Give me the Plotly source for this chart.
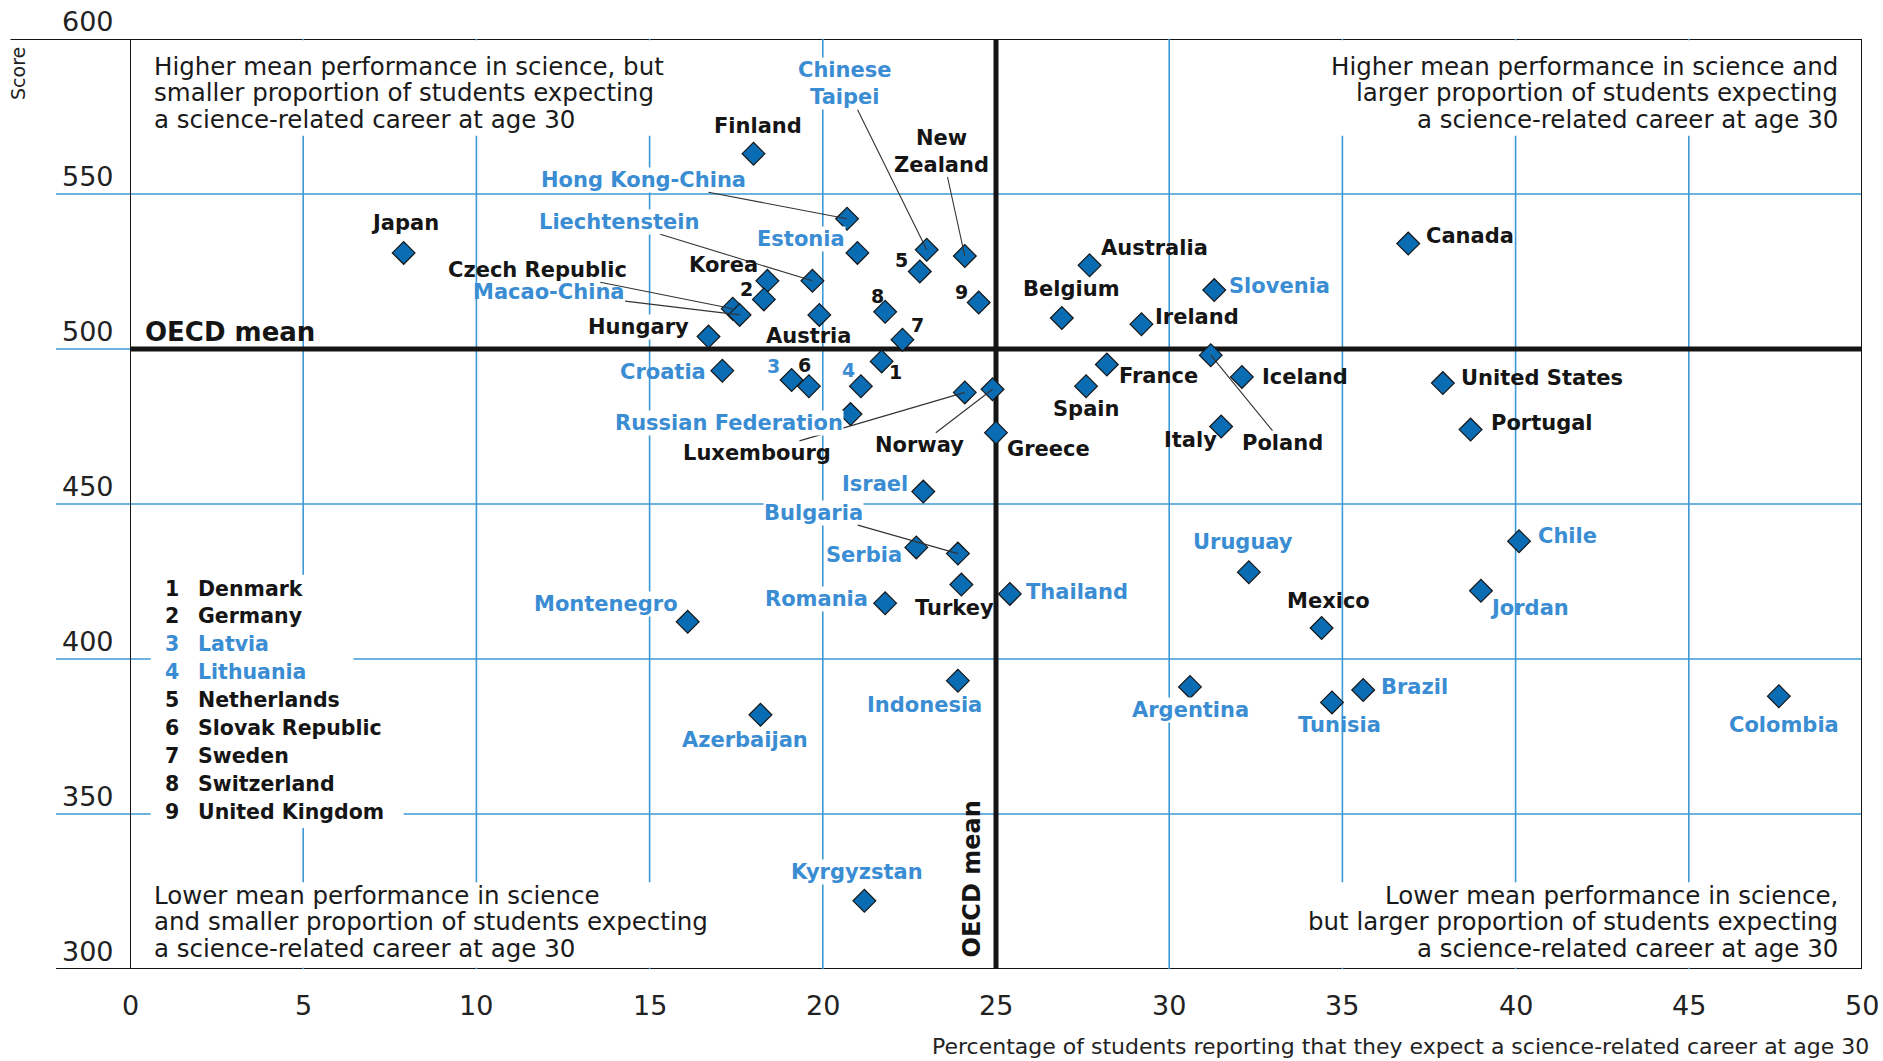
import plotly.graph_objects as go

# ---------------- data ----------------
countries = ["Japan", "Finland", "Chinese Taipei", "Hong Kong-China", "Liechtenstein", "Estonia",
             "New Zealand", "Netherlands", "Korea", "Germany", "Czech Republic", "Macao-China",
             "Hungary", "Austria", "Switzerland", "Sweden", "United Kingdom", "Australia", "Belgium",
             "Ireland", "Canada", "Slovenia", "Poland", "Iceland", "United States", "Denmark",
             "Croatia", "Latvia", "Slovak Republic", "Lithuania", "France", "Spain", "Norway",
             "Luxembourg", "Russian Federation", "Greece", "Italy", "Portugal", "Israel", "Bulgaria",
             "Serbia", "Turkey", "Thailand", "Romania", "Montenegro", "Indonesia", "Azerbaijan",
             "Argentina", "Uruguay", "Kyrgyzstan", "Chile", "Jordan", "Mexico", "Brazil", "Tunisia",
             "Colombia"]
pct_career = [7.9, 18.0, 23.0, 20.7, 19.7, 21.0, 24.1, 22.8, 18.4, 18.3,
              17.4, 17.6, 16.7, 19.9, 21.8, 22.3, 24.5, 27.7, 26.9, 29.2,
              36.9, 31.3, 31.2, 32.1, 37.9, 21.7, 17.1, 19.1, 19.6, 21.1,
              28.2, 27.6, 24.9, 24.1, 20.8, 25.0, 31.5, 38.7, 22.9, 23.9,
              22.7, 24.0, 25.4, 21.8, 16.1, 23.9, 18.2, 30.6, 32.3, 21.2,
              40.1, 39.0, 34.4, 35.6, 34.7, 47.6]
science_score = [531, 563, 532, 542, 522, 531, 530, 525, 522, 516,
                 513, 511, 504, 511, 512, 503, 515, 527, 510, 508,
                 534, 519, 498, 491, 489, 496, 493, 490, 488, 488,
                 495, 488, 487, 486, 479, 473, 475, 474, 454, 434,
                 436, 424, 421, 418, 412, 393, 382, 391, 428, 322,
                 438, 422, 410, 390, 386, 388]
partners = ["Chinese Taipei", "Hong Kong-China", "Liechtenstein", "Estonia", "Macao-China",
            "Slovenia", "Croatia", "Latvia", "Lithuania", "Russian Federation", "Israel",
            "Bulgaria", "Serbia", "Romania", "Montenegro", "Thailand", "Uruguay", "Chile",
            "Jordan", "Indonesia", "Azerbaijan", "Argentina", "Brazil", "Tunisia", "Colombia",
            "Kyrgyzstan"]
numbered = ["Denmark", "Germany", "Latvia", "Lithuania", "Netherlands", "Slovak Republic",
            "Sweden", "Switzerland", "United Kingdom"]
oecd_mean_pct = 25
oecd_mean_score = 500
x_ticks = [0, 5, 10, 15, 20, 25, 30, 35, 40, 45, 50]
y_ticks = [300, 350, 400, 450, 500, 550, 600]
x_title = "Percentage of students reporting that they expect a science-related career at age 30"
y_title = "Score"

# ---------------- style / layout ----------------
W, H = 1883, 1061
ML, MR, MT, MB = 130, 21, 39, 92
PW, PH = W - ML - MR, H - MT - MB
X0, X1, Y0, Y1 = 0, 50, 300, 600
FONT = "DejaVu Sans"
BLUE_TXT = "#3a8dd3"
DIAMOND = "#0a6db3"
GRID = "#3d9ad6"
BLACK = "#151515"


def px2x(px):
    return X0 + (px - ML) / PW * (X1 - X0)


def px2y(py):
    return Y1 - (py - MT) / PH * (Y1 - Y0)


# label placement: dx, dy (screen px, dy down), anchor, leader line, white background
LBL = {
    "Japan": (1, -30, "center", False, False),
    "Finland": (4, -28, "center", False, False),
    "Chinese Taipei": (-82, -166, "center", True, True),
    "Hong Kong-China": (-204, -39, "center", True, True),
    "Liechtenstein": (-193, -59, "center", True, True),
    "Estonia": (-56, -14, "center", False, True),
    "New Zealand": (-23, -105, "center", True, False),
    "Netherlands": (-18, -12, "center", False, False),
    "Korea": (-44, -16, "center", False, False),
    "Germany": (-17, -10, "center", False, False),
    "Czech Republic": (-195, -39, "center", True, False),
    "Macao-China": (-191, -23, "center", True, False),
    "Hungary": (-70, -10, "center", False, True),
    "Austria": (-11, 21, "center", False, False),
    "Switzerland": (-8, -16, "center", False, False),
    "Sweden": (15, -15, "center", False, False),
    "United Kingdom": (-17, -11, "center", False, False),
    "Australia": (10, -17, "left", False, False),
    "Belgium": (10, -29, "center", False, False),
    "Ireland": (13, -7, "left", False, False),
    "Canada": (17, -8, "left", False, False),
    "Slovenia": (14, -4, "left", False, False),
    "Poland": (72, 88, "center", True, False),
    "Iceland": (19, 0, "left", False, False),
    "United States": (17, -5, "left", False, False),
    "Denmark": (14, 11, "center", False, False),
    "Croatia": (-59, 1, "center", False, False),
    "Latvia": (-18, -14, "center", False, False),
    "Slovak Republic": (-4, -21, "center", False, False),
    "Lithuania": (-12, -16, "center", False, False),
    "France": (11, 11, "left", False, False),
    "Spain": (0, 23, "center", False, False),
    "Norway": (-73, 56, "center", True, False),
    "Luxembourg": (-208, 61, "center", True, False),
    "Russian Federation": (-122, 9, "center", False, True),
    "Greece": (10, 16, "left", False, False),
    "Italy": (-31, 13, "center", False, False),
    "Portugal": (19, -7, "left", False, False),
    "Israel": (-14, -8, "right", False, False),
    "Bulgaria": (-144, -41, "center", True, True),
    "Serbia": (-13, 8, "right", False, False),
    "Turkey": (-7, 23, "center", False, False),
    "Thailand": (15, -2, "left", False, False),
    "Romania": (-16, -4, "right", False, True),
    "Montenegro": (-9, -18, "right", False, True),
    "Indonesia": (-33, 24, "center", False, False),
    "Azerbaijan": (-15, 25, "center", False, False),
    "Argentina": (1, 23, "center", False, True),
    "Uruguay": (-6, -30, "center", False, False),
    "Kyrgyzstan": (-7, -29, "center", False, True),
    "Chile": (18, -5, "left", False, False),
    "Jordan": (8, 17, "left", False, False),
    "Mexico": (7, -27, "center", False, False),
    "Brazil": (17, -3, "left", False, False),
    "Tunisia": (7, 23, "center", False, False),
    "Colombia": (5, 29, "center", False, False),
}
MULTILINE = {"Chinese Taipei": "Chinese<br>Taipei", "New Zealand": "New<br>Zealand"}

fig = go.Figure()
fig.add_trace(go.Scatter(
    x=pct_career, y=science_score, mode="markers",
    marker=dict(symbol="diamond", size=17.5, color=DIAMOND, line=dict(color=BLACK, width=1.2)),
    hoverinfo="text", text=countries, showlegend=False,
))

shapes = []
# blue grid lines
for v in y_ticks:
    if v in (350, 400, 450, 550):
        shapes.append(dict(type="line", xref="paper", yref="y", x0=-0.0427, x1=1, y0=v, y1=v,
                           line=dict(color=GRID, width=1.6), layer="below"))
shapes.append(dict(type="line", xref="paper", yref="y", x0=-0.0427, x1=0, y0=oecd_mean_score,
                   y1=oecd_mean_score, line=dict(color=GRID, width=1.6), layer="below"))
for v in x_ticks:
    if v not in (X0, X1, oecd_mean_pct):
        shapes.append(dict(type="line", xref="x", yref="y", x0=v, x1=v, y0=Y0, y1=Y1,
                           line=dict(color=GRID, width=1.6), layer="below"))
# white boxes behind the text blocks
for (a, b, c, d) in [(0.15, 16.5, 568.8, 599.6), (34.0, 49.85, 568.8, 599.6),
                     (0.15, 17.2, 300.4, 328.0), (34.0, 49.85, 300.4, 328.0),
                     (0.6, 6.45, 345.6, 427.2), (0.6, 7.9, 345.6, 355.0)]:
    shapes.append(dict(type="rect", xref="x", yref="y", x0=a, x1=b, y0=c, y1=d,
                       fillcolor="white", line=dict(width=0), layer="below"))
# black frame and OECD mean lines
shapes.append(dict(type="line", xref="paper", yref="y", x0=-0.069, x1=1, y0=Y1, y1=Y1,
                   line=dict(color=BLACK, width=2), layer="below"))
shapes.append(dict(type="line", xref="paper", yref="y", x0=-0.0427, x1=1, y0=Y0, y1=Y0,
                   line=dict(color=BLACK, width=2), layer="below"))
for v in (X0, X1):
    shapes.append(dict(type="line", xref="x", yref="y", x0=v, x1=v, y0=Y0, y1=Y1,
                       line=dict(color=BLACK, width=2), layer="below"))
shapes.append(dict(type="line", xref="x", yref="y", x0=X0, x1=X1, y0=oecd_mean_score,
                   y1=oecd_mean_score, line=dict(color=BLACK, width=5), layer="below"))
shapes.append(dict(type="line", xref="x", yref="y", x0=oecd_mean_pct, x1=oecd_mean_pct, y0=Y0,
                   y1=Y1, line=dict(color=BLACK, width=5), layer="below"))

ann = []
# tick labels
for v in x_ticks:
    ann.append(dict(x=v, xref="x", y=0, yref="paper", yanchor="middle", yshift=-36,
                    text=str(v), showarrow=False, font=dict(family=FONT, size=27, color="#222")))
for v in y_ticks:
    ann.append(dict(x=0, xref="paper", xanchor="right", xshift=-14, y=v, yref="y",
                    yanchor="bottom", yshift=0, text=str(v), showarrow=False,
                    font=dict(family=FONT, size=27, color="#222")))
ann.append(dict(x=1.005, xref="paper", xanchor="right", y=0, yref="paper", yanchor="middle",
                yshift=-77, text=x_title, showarrow=False,
                font=dict(family=FONT, size=22, color="#222")))
ann.append(dict(x=(18 - ML) / PW, xref="paper", y=1 - (73 - MT) / PH, yref="paper",
                xanchor="center", yanchor="middle", text=y_title, textangle=-90,
                showarrow=False, font=dict(family=FONT, size=19, color="#222")))
# OECD mean labels
ann.append(dict(x=X0, xref="x", xanchor="left", xshift=13, y=oecd_mean_score, yref="y",
                yanchor="bottom", yshift=0, text="<b>OECD mean</b>", showarrow=False,
                font=dict(family=FONT, size=26, color=BLACK)))
ann.append(dict(x=oecd_mean_pct, xref="x", xshift=-25, xanchor="center", y=Y0, yref="y",
                yanchor="bottom", yshift=9, text="<b>OECD mean</b>", textangle=-90,
                showarrow=False, font=dict(family=FONT, size=24, color=BLACK)))

# quadrant notes
quad = [
    (["Higher mean performance in science, but",
      "smaller proportion of students expecting",
      "a science-related career at age 30"], 152, [66, 92.5, 119], "left"),
    (["Higher mean performance in science and",
      "larger proportion of students expecting",
      "a science-related career at age 30"], 1840, [66, 92.5, 119], "right"),
    (["Lower mean performance in science",
      "and smaller proportion of students expecting",
      "a science-related career at age 30"], 152, [895, 921.5, 948], "left"),
    (["Lower mean performance in science,",
      "but larger proportion of students expecting",
      "a science-related career at age 30"], 1840, [895, 921.5, 948], "right"),
]
for lines, xp, ys, anc in quad:
    for t, yp in zip(lines, ys):
        ann.append(dict(x=px2x(xp), xref="x", y=px2y(yp), yref="y", xanchor=anc,
                        yanchor="middle", text=t, showarrow=False,
                        font=dict(family=FONT, size=24.5, color="#1a1a1a")))

# numbered key
for i, name in enumerate(numbered):
    col = BLUE_TXT if name in partners else BLACK
    yp = 588.5 + i * 27.9
    ann.append(dict(x=px2x(172), xref="x", y=px2y(yp), yref="y", xanchor="center",
                    yanchor="middle", text=f"<b>{i + 1}</b>", showarrow=False,
                    font=dict(family=FONT, size=20.5, color=col)))
    ann.append(dict(x=px2x(196), xref="x", y=px2y(yp), yref="y", xanchor="left",
                    yanchor="middle", text=f"<b>{name}</b>", showarrow=False,
                    font=dict(family=FONT, size=20.5, color=col)))

# country labels
for name, xv, yv in zip(countries, pct_career, science_score):
    dx, dy, anc, arrow, bg = LBL[name]
    col = BLUE_TXT if name in partners else BLACK
    if name in numbered:
        txt = str(numbered.index(name) + 1)
        fsize = 19
    else:
        txt = MULTILINE.get(name, name)
        fsize = 21
    a = dict(x=xv, y=yv, xref="x", yref="y", text=f"<b>{txt}</b>",
             font=dict(family=FONT, size=fsize, color=col), borderpad=0)
    if arrow:
        a.update(showarrow=True, ax=dx, ay=dy, arrowhead=0, arrowwidth=1.1,
                 arrowcolor="#333", standoff=0, startstandoff=0)
    else:
        a.update(showarrow=False, xshift=dx, yshift=-dy, xanchor=anc, yanchor="middle")
    if bg:
        a["bgcolor"] = "white"
    ann.append(a)

fig.update_layout(
    width=W, height=H,
    margin=dict(l=ML, r=MR, t=MT, b=MB, pad=0),
    paper_bgcolor="white", plot_bgcolor="white",
    xaxis=dict(range=[X0, X1], showgrid=False, zeroline=False, showline=False,
               showticklabels=False, ticks="", fixedrange=True),
    yaxis=dict(range=[Y0, Y1], showgrid=False, zeroline=False, showline=False,
               showticklabels=False, ticks="", fixedrange=True),
    shapes=shapes, annotations=ann, showlegend=False,
)

fig.write_html("out.html", config={"displayModeBar": False},
               post_script="document.body.style.margin='0';document.body.style.overflow='hidden';")
